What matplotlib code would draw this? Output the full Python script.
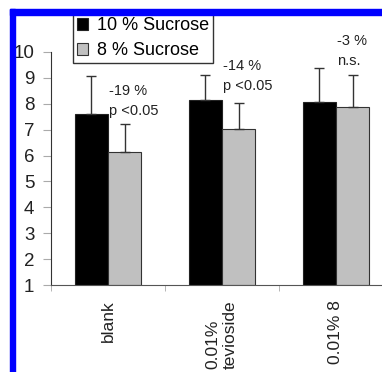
import matplotlib
matplotlib.use("Agg")
matplotlib.rcParams['font.family'] = ['Liberation Sans', 'DejaVu Sans']

import numpy as np
import matplotlib.pyplot as plt
from matplotlib.patches import Rectangle

categories = ["blank", "0.01%\ntevioside", "0.01% 8"]
sucrose10 = [7.62, 8.16, 8.06]
sucrose10_err = [1.44, 0.95, 1.32]
sucrose8 = [6.15, 7.02, 7.86]
sucrose8_err = [1.05, 1.01, 1.24]
notes_top = ["-19 %", "-14 %", "-3 %"]
notes_bottom = ["p <0.05", "p <0.05", "n.s."]
notes_y = [8.5, 9.46, 10.43]


def draw():
    W, H = 382, 372
    fig = plt.figure(figsize=(W / 100, H / 100), dpi=100)
    ax = fig.add_axes([51 / W, 1 - 285 / H, 342 / W, 233 / H])

    x = np.arange(len(categories))
    w = 0.29
    bottom = 1
    h10 = np.array(sucrose10) - bottom
    h8 = np.array(sucrose8) - bottom
    ax.bar(x - w / 2, h10, w, bottom=bottom, color="black",
           edgecolor="#222222", linewidth=0.8, label="10 % Sucrose", zorder=2)
    ax.bar(x + w / 2, h8, w, bottom=bottom, color="#c0c0c0",
           edgecolor="#333333", linewidth=0.8, label="8 % Sucrose", zorder=2)
    ax.errorbar(x - w / 2, sucrose10, yerr=[np.zeros(3), sucrose10_err],
                fmt="none", ecolor="#333333", elinewidth=1, capsize=3.3,
                capthick=1, zorder=3)
    ax.errorbar(x + w / 2, sucrose8, yerr=[np.zeros(3), sucrose8_err],
                fmt="none", ecolor="#333333", elinewidth=1, capsize=3.3,
                capthick=1, zorder=3)

    for i in range(len(categories)):
        ax.text(i + 0.01, notes_y[i], notes_top[i], fontsize=10.5,
                color="#222222", ha="left", va="center", clip_on=False)
        ax.text(i + 0.01, notes_y[i] - 0.77, notes_bottom[i], fontsize=10.5,
                color="#222222", ha="left", va="center", clip_on=False)

    ax.set_xlim(-0.5, 2.5)
    ax.set_ylim(1, 10)
    ax.set_yticks(range(1, 11))
    ax.set_xticks(x)
    ax.set_xticklabels(categories, rotation=90, fontsize=12.5,
                       color="#222222")
    ax.get_xticklabels()[1].set_multialignment("left")
    ax.set_xticks([-0.5, 0.5, 1.5, 2.5], minor=True)
    ax.tick_params(axis="x", which="major", length=0, pad=11)
    ax.tick_params(axis="x", which="minor", length=4, color="#aaaaaa")
    ax.tick_params(axis="y", length=6, width=0.8, color="#aaaaaa", pad=6,
                   labelsize=13.5, labelcolor="#222222")
    for s in ["top", "right"]:
        ax.spines[s].set_visible(False)
    ax.spines["left"].set_color("#333333")
    ax.spines["bottom"].set_color("#555555")

    fig.legend(loc="lower left", bbox_to_anchor=(73 / W, 1 - 63 / H),
               fontsize=13, frameon=True, fancybox=False,
               edgecolor="#333333", framealpha=1, borderpad=0.2,
               handlelength=0.62, handleheight=0.62, handletextpad=0.5,
               labelspacing=0.45, borderaxespad=0)

    # blue frame along top and left edges
    fig.add_artist(Rectangle((10 / W, 0), 5 / W, 1 - 9 / H, color="#0000ff",
                             transform=fig.transFigure, zorder=10))
    fig.add_artist(Rectangle((10 / W, 1 - 15 / H), 1, 6 / H, color="#0000ff",
                             transform=fig.transFigure, zorder=10))

    fig.savefig("out.png", dpi=100)


draw()
